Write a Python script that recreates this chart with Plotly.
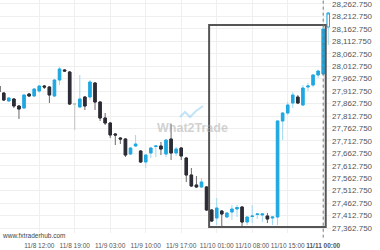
import plotly.graph_objects as go

# ---- data (hourly candles, index-based x axis) ----
opens = [27933.3, 27905.1, 27873.0, 27881.0, 27852.9, 27844.8, 27901.1, 27893.1, 27913.2, 27933.3,
         27929.2, 27893.1, 27957.4, 27997.6, 27989.5, 27860.9, 27848.9, 27889.0, 27889.0, 27945.3,
         27868.9, 27804.7, 27784.6, 27740.4, 27724.3, 27720.3, 27660.0, 27692.2, 27672.1, 27627.9,
         27664.1, 27690.2, 27692.2, 27660.0, 27720.3, 27664.1, 27684.2, 27643.9, 27575.7, 27535.5,
         27527.5, 27527.5, 27435.1, 27402.9, 27431.0, 27406.9, 27427.0, 27439.1, 27447.1, 27386.8,
         27408.9, 27417.0, 27415.0, 27410.9, 27402.9, 27406.9, 27792.7, 27824.8, 27864.9, 27889.0,
         27856.9, 27929.2, 27937.3, 27977.5, 27981.5, 28170.3]
highs = [27937.3, 27909.1, 27889.0, 27885.0, 27856.9, 27901.1, 27905.1, 27925.2, 27937.3, 27937.3,
         27933.3, 27961.4, 28009.6, 28001.6, 27993.5, 27864.9, 27977.5, 27893.1, 27957.4, 27949.4,
         27873.0, 27824.8, 27788.6, 27744.4, 27728.4, 27724.3, 27688.2, 27736.4, 27676.1, 27660.0,
         27688.2, 27696.2, 27708.3, 27720.3, 27780.6, 27688.2, 27688.2, 27648.0, 27603.8, 27571.7,
         27563.6, 27531.5, 27439.1, 27483.3, 27435.1, 27427.0, 27455.1, 27455.1, 27451.1, 27410.9,
         27455.1, 27423.0, 27423.0, 27423.0, 27410.9, 27796.7, 27828.8, 27868.9, 27909.1, 27897.1,
         27937.3, 27945.3, 27981.5, 27997.6, 28178.4, 28230.6]
lows = [27905.1, 27873.0, 27868.9, 27844.8, 27800.7, 27840.8, 27889.0, 27889.0, 27905.1, 27921.2,
        27864.9, 27889.0, 27937.3, 27989.5, 27856.9, 27756.5, 27844.8, 27836.9, 27877.0, 27836.9,
        27792.7, 27776.6, 27724.3, 27696.2, 27700.2, 27648.0, 27656.0, 27688.2, 27623.9, 27603.8,
        27643.9, 27648.0, 27656.0, 27648.0, 27635.9, 27652.0, 27635.9, 27547.6, 27527.5, 27523.5,
        27523.5, 27431.0, 27386.8, 27374.8, 27370.8, 27402.9, 27394.9, 27406.9, 27366.8, 27374.8,
        27382.8, 27398.9, 27386.8, 27382.8, 27374.8, 27374.8, 27716.3, 27816.8, 27844.8, 27860.9,
        27852.9, 27913.2, 27929.2, 27965.4, 27973.5, 28098.0]
closes = [27909.1, 27877.0, 27885.0, 27852.9, 27840.8, 27897.1, 27893.1, 27921.2, 27933.3, 27929.2,
          27897.1, 27957.4, 28001.6, 27993.5, 27860.9, 27860.9, 27881.0, 27852.9, 27949.4, 27868.9,
          27804.7, 27784.6, 27736.4, 27736.4, 27720.3, 27656.0, 27684.2, 27700.2, 27627.9, 27656.0,
          27684.2, 27692.2, 27680.1, 27716.3, 27664.1, 27680.1, 27652.0, 27575.7, 27531.5, 27527.5,
          27547.6, 27435.1, 27390.8, 27443.1, 27419.0, 27423.0, 27439.1, 27445.1, 27386.8, 27406.9,
          27410.9, 27419.0, 27419.0, 27398.9, 27406.9, 27792.7, 27824.8, 27856.9, 27897.1, 27864.9,
          27925.2, 27933.3, 27977.5, 27993.5, 28162.3, 28226.6]

tick_index = [8, 15, 22, 29, 36, 43, 50, 57, 64]
tick_labels = ["11/8 12:00", "11/8 19:00", "11/9 03:00", "11/9 10:00", "11/9 17:00",
               "11/10 01:00", "11/10 08:00", "11/10 15:00", "11/11 00:00"]
box_first, box_last = 42, 64          # pattern window (candle indices)
y_ticks = [27362.75 + 50 * k for k in range(19)]

# ---- styles ----
BLUE = "#1fa8e2"
BLUE_WICK = "#9fd8f2"
DARK = "#2c2c36"
DARK_WICK = "#6a6a6a"
DOJI = "#c3c3c3"

n = len(opens)
live = n - 1
idx = list(range(n))
groups = {"up": [], "down": [], "doji": []}
for i in idx[:-1]:
    if closes[i] > opens[i]:
        groups["up"].append(i)
    elif closes[i] < opens[i]:
        groups["down"].append(i)
    else:
        groups["doji"].append(i)

fig = go.Figure()


def add_candles(ids, wick_col, body_col, fill_col=None):
    if not ids:
        return
    x = ids
    o = [opens[i] for i in ids]
    c = [closes[i] for i in ids]
    h = [highs[i] for i in ids]
    l = [lows[i] for i in ids]
    fig.add_trace(go.Candlestick(
        x=x, open=o, high=h, low=l, close=c,
        increasing=dict(line=dict(color=wick_col, width=1), fillcolor=wick_col),
        decreasing=dict(line=dict(color=wick_col, width=1), fillcolor=wick_col),
        hoverinfo="skip", showlegend=False))
    bh = [max(a, b) for a, b in zip(o, c)]
    bl = [min(a, b) for a, b in zip(o, c)]
    fc = fill_col if fill_col else body_col
    fig.add_trace(go.Candlestick(
        x=x, open=o, high=bh, low=bl, close=c,
        increasing=dict(line=dict(color=body_col, width=1), fillcolor=fc),
        decreasing=dict(line=dict(color=body_col, width=1), fillcolor=fc),
        hoverinfo="skip", showlegend=False))


add_candles(groups["up"], BLUE_WICK, BLUE)
add_candles(groups["down"], DARK_WICK, DARK)
add_candles(groups["doji"], DOJI, DOJI)
add_candles([live], BLUE_WICK, BLUE, fill_col="white")

# pattern box
box_top = max(highs[box_first:box_last + 1])
box_bot = min(lows[box_first:box_last + 1])
fig.add_shape(type="rect", xref="x", yref="y",
              x0=box_first - 0.5, x1=box_last + 0.5, y0=box_bot, y1=box_top,
              line=dict(color="#555555", width=2), fillcolor="rgba(0,0,0,0)")

# current-time dotted line
fig.add_shape(type="line", xref="x", yref="paper",
              x0=tick_index[-1], x1=tick_index[-1], y0=-0.02, y1=1,
              line=dict(color="#777777", width=1, dash="dot"))

# watermark
fig.add_annotation(text="<b>What2Trade</b>", xref="paper", yref="paper",
                   x=192 / 331, y=1 - 128 / 233, showarrow=False,
                   font=dict(family="Liberation Sans", size=12.5, color="rgba(165,165,165,0.5)"))
fig.add_shape(type="path", xref="paper", yref="paper",
              path="M {:.4f} {:.4f} L {:.4f} {:.4f} L {:.4f} {:.4f} L {:.4f} {:.4f} L {:.4f} {:.4f}".format(
                  180 / 331, 1 - 117 / 233, 185 / 331, 1 - 112 / 233, 190 / 331, 1 - 117 / 233,
                  196 / 331, 1 - 111 / 233, 203 / 331, 1 - 106 / 233),
              line=dict(color="rgba(120,195,240,0.45)", width=2))

fig.add_annotation(text="www.fxtraderhub.com", xref="paper", yref="paper",
                   x=0, y=1 - 235 / 233, xanchor="left", yanchor="middle", showarrow=False,
                   font=dict(family="Liberation Sans", size=6.5, color="#444444"))

ticktext = tick_labels[:-1] + ["<b>" + tick_labels[-1] + "</b>"]

fig.update_layout(
    width=380, height=250,
    margin=dict(l=0, r=49, t=0, b=17),
    paper_bgcolor="white", plot_bgcolor="white",
    showlegend=False,
    font=dict(family="Liberation Sans"),
    xaxis=dict(range=[0.26, 65.54], tickmode="array", tickvals=tick_index, ticktext=ticktext,
               showgrid=True, gridcolor="#efefef", gridwidth=1, zeroline=False, showline=False,
               ticks="outside", ticklen=6, tickcolor="rgba(0,0,0,0)", tickangle=0,
               tickfont=dict(size=6.5, color="#555555"),
               rangeslider=dict(visible=False), fixedrange=True),
    yaxis=dict(side="right", range=[27342.7, 28278.8], tickmode="array", tickvals=y_ticks,
               tickformat=",.3f", showgrid=True, gridcolor="#efefef", zeroline=False,
               showline=False, ticks="", ticklabeloverflow="allow",
               tickfont=dict(size=8, color="#555555"), fixedrange=True),
)

fig.write_html("out.html")
